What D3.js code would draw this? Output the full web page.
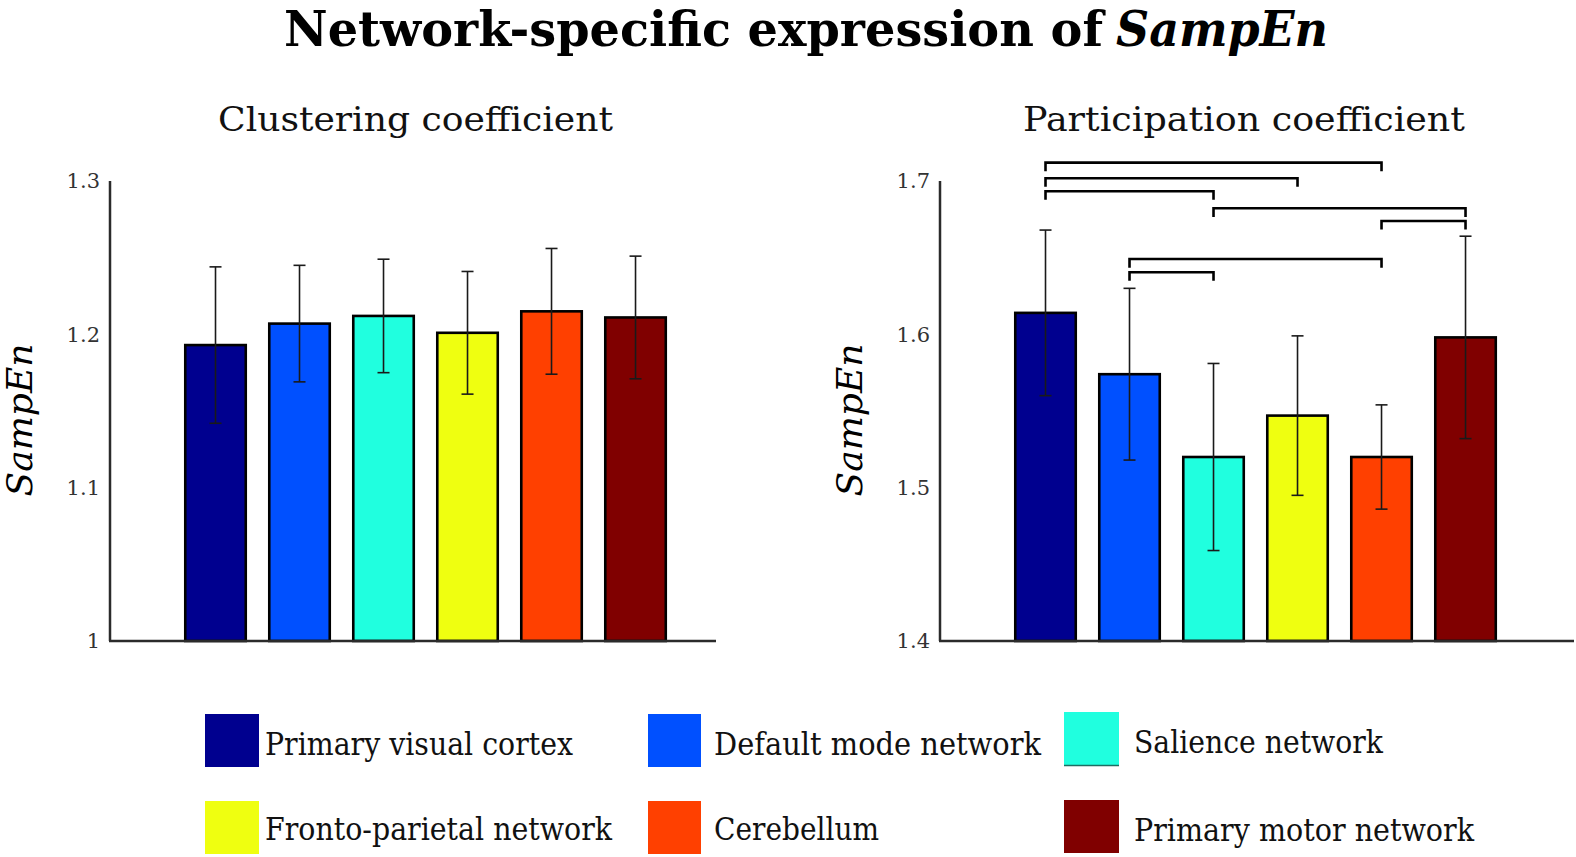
<!DOCTYPE html>
<html>
<head>
<meta charset="utf-8">
<script src="https://cdn.jsdelivr.net/npm/d3@7"></script>
<style>
  html, body { margin: 0; padding: 0; background: #fff; }
  svg { display: block; }
</style>
</head>
<body>
<svg id="chart" width="1576" height="857"></svg>
<script>
// ---------- data ----------
const categories = ["Primary visual cortex", "Default mode network", "Salience network",
                    "Fronto-parietal network", "Cerebellum", "Primary motor network"];
const colors = ["#00008F", "#0050FF", "#20FFDF", "#EFFF10", "#FF4000", "#800000"];

const clusteringMeans = [1.193, 1.207, 1.212, 1.201, 1.215, 1.211];
const clusteringErr   = [0.051, 0.038, 0.037, 0.040, 0.041, 0.040];
const clusteringTicks = [1, 1.1, 1.2, 1.3];
const clusteringTickLabels = ["1", "1.1", "1.2", "1.3"];

const participationMeans = [1.614, 1.574, 1.520, 1.547, 1.520, 1.598];
const participationErr   = [0.054, 0.056, 0.061, 0.052, 0.034, 0.066];
const participationTicks = [1.4, 1.5, 1.6, 1.7];
const participationTickLabels = ["1.4", "1.5", "1.6", "1.7"];

// significance brackets: [from index, to index, level]
const bracketFrom  = [0, 0, 0, 2, 4, 1, 1];
const bracketTo    = [4, 3, 2, 5, 5, 4, 2];
const bracketLevel = [1.712, 1.7018, 1.6933, 1.6822, 1.6739, 1.6491, 1.6405];

// ---------- drawing ----------
const svg = d3.select("#chart");
const SERIF = "'DejaVu Serif', 'Liberation Serif', serif";

function fitText(sel, x, y, targetW) {
  sel.attr("x", x).attr("y", y)
     .attr("textLength", targetW)
     .attr("lengthAdjust", "spacingAndGlyphs");
}

// Title (two pieces: roman + italic)
const title1 = svg.append("text")
  .attr("font-family", SERIF).attr("font-weight", "bold").attr("font-size", 49)
  .attr("fill", "#000").text("Network-specific expression of");
fitText(title1, 284, 46, 819);
const title2 = svg.append("text")
  .attr("font-family", SERIF).attr("font-weight", "bold").attr("font-style", "italic")
  .attr("font-size", 49).attr("fill", "#000").text("SampEn");
fitText(title2, 1116, 46, 212);

function panel(opts) {
  const g = svg.append("g");
  const x = d3.scaleLinear().domain(opts.xDomain).range([opts.left, opts.right]);
  const y = d3.scaleLinear().domain(opts.yDomain).range([641, 181]);
  const bw = x(0.72) - x(0);

  // subtitle
  const st = g.append("text").attr("font-family", SERIF).attr("font-size", 33)
    .attr("fill", "#111").text(opts.title);
  fitText(st, opts.titleX, 131, opts.titleW);

  // y-axis via d3 axis
  const axis = d3.axisLeft(y).tickValues(opts.ticks)
    .tickFormat((d, i) => opts.tickLabels[i]).tickSize(0).tickPadding(10);
  const ag = g.append("g").attr("transform", `translate(${opts.left},0)`).call(axis)
    .attr("font-size", 21).attr("font-family", SERIF);
  ag.select(".domain").remove();
  ag.selectAll("text").attr("font-family", SERIF).attr("font-size", 21)
    .style("font-size", "21px").attr("fill", "#333");

  // y axis line
  g.append("line").attr("x1", opts.left).attr("x2", opts.left)
    .attr("y1", y(opts.yDomain[1])).attr("y2", y(opts.yDomain[0]))
    .attr("stroke", "#2b2b2b").attr("stroke-width", 2.5);

  // bars
  const idx = d3.range(opts.means.length);
  g.selectAll("rect.bar").data(idx).join("rect")
    .attr("class", "bar")
    .attr("x", i => x(i + 1) - bw / 2)
    .attr("width", bw)
    .attr("y", i => y(opts.means[i]))
    .attr("height", i => y(opts.yDomain[0]) - y(opts.means[i]))
    .attr("fill", i => colors[i])
    .attr("stroke", "#000").attr("stroke-width", 2.6);

  // baseline over bars
  g.append("line").attr("x1", opts.left - 1).attr("x2", opts.axisEnd)
    .attr("y1", y(opts.yDomain[0])).attr("y2", y(opts.yDomain[0]))
    .attr("stroke", "#2b2b2b").attr("stroke-width", 2.5);

  // error bars
  const cap = 6;
  const eg = g.selectAll("g.err").data(idx).join("g").attr("class", "err")
    .attr("stroke", "#1a1a1a").attr("stroke-width", 1.6);
  eg.append("line")
    .attr("x1", i => x(i + 1)).attr("x2", i => x(i + 1))
    .attr("y1", i => y(opts.means[i] + opts.errs[i]))
    .attr("y2", i => y(opts.means[i] - opts.errs[i]));
  eg.append("line")
    .attr("x1", i => x(i + 1) - cap).attr("x2", i => x(i + 1) + cap)
    .attr("y1", i => y(opts.means[i] + opts.errs[i]))
    .attr("y2", i => y(opts.means[i] + opts.errs[i]));
  eg.append("line")
    .attr("x1", i => x(i + 1) - cap).attr("x2", i => x(i + 1) + cap)
    .attr("y1", i => y(opts.means[i] - opts.errs[i]))
    .attr("y2", i => y(opts.means[i] - opts.errs[i]));

  // y label
  g.append("text").attr("font-family", SERIF).attr("font-style", "italic")
    .attr("font-size", 36).attr("fill", "#000").attr("text-anchor", "middle")
    .attr("transform", `translate(${opts.ylabelX},420) rotate(-90)`)
    .text("SampEn");

  // brackets
  if (opts.brackets) {
    const drop = 0.0056;
    const bIdx = d3.range(bracketFrom.length);
    g.selectAll("path.br").data(bIdx).join("path")
      .attr("class", "br")
      .attr("fill", "none").attr("stroke", "#000").attr("stroke-width", 2.6)
      .attr("d", k => {
        const x1 = x(bracketFrom[k] + 1), x2 = x(bracketTo[k] + 1);
        const yl = y(bracketLevel[k]), yd = y(bracketLevel[k] - drop);
        return `M${x1},${yd}V${yl}H${x2}V${yd}`;
      });
  }
  return { x, y };
}

panel({
  left: 110, right: 716, axisEnd: 716,
  xDomain: [-0.256, 6.958], yDomain: [1, 1.3],
  means: clusteringMeans, errs: clusteringErr,
  ticks: clusteringTicks, tickLabels: clusteringTickLabels,
  title: "Clustering coefficient", titleX: 218, titleW: 395,
  ylabelX: 32, brackets: false
});

panel({
  left: 940, right: 1546, axisEnd: 1574,
  xDomain: [-0.256, 6.958], yDomain: [1.4, 1.7],
  means: participationMeans, errs: participationErr,
  ticks: participationTicks, tickLabels: participationTickLabels,
  title: "Participation coefficient", titleX: 1023, titleW: 442,
  ylabelX: 862, brackets: true
});

// ---------- legend ----------
const legendSwX   = [205, 648, 1064, 205, 648, 1064];
const legendSwW   = [54, 53, 55, 54, 53, 55];
const legendSwY   = [714, 714, 712, 801, 801, 800];
const legendTextX = [265, 714, 1134, 265, 714, 1134];
const legendTextW = [308, 327, 249, 347, 165, 340];
const legendBase  = [755, 755, 753, 840, 840, 841];

const lg = svg.append("g");
categories.forEach((c, i) => {
  lg.append("rect").attr("x", legendSwX[i]).attr("y", legendSwY[i])
    .attr("width", legendSwW[i]).attr("height", 53).attr("fill", colors[i]);
  const t = lg.append("text").attr("font-family", SERIF).attr("font-size", 32)
    .attr("fill", "#111").text(c);
  fitText(t, legendTextX[i], legendBase[i], legendTextW[i]);
});
// small dark edge under the salience swatch
lg.append("line").attr("x1", legendSwX[2]).attr("x2", legendSwX[2] + legendSwW[2])
  .attr("y1", legendSwY[2] + 53.5).attr("y2", legendSwY[2] + 53.5)
  .attr("stroke", "#1f6d62").attr("stroke-width", 1.5);
</script>
</body>
</html>
